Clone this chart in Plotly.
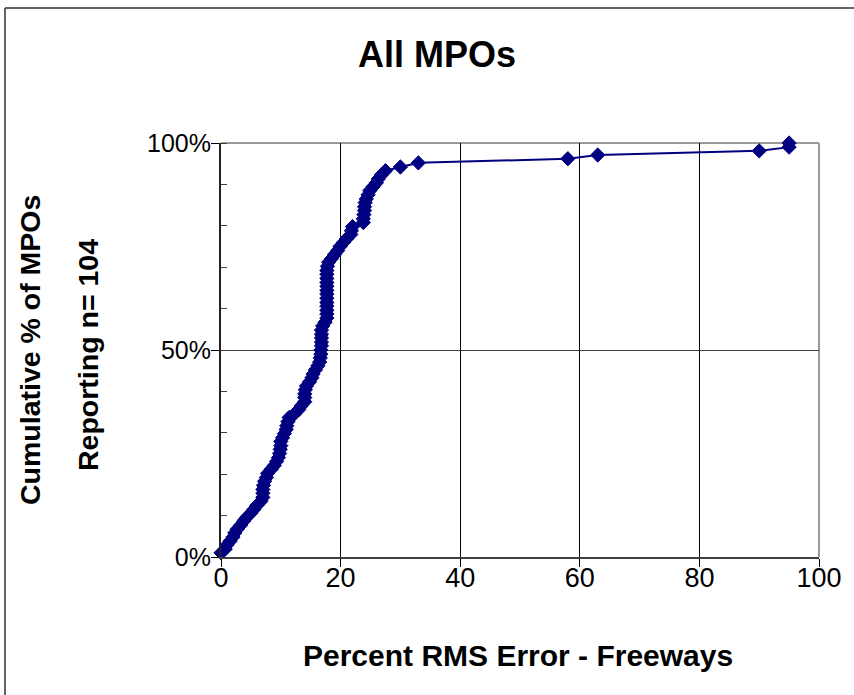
import plotly.graph_objects as go

# Percent RMS error (x) for each MPO, sorted, and cumulative % of MPOs reporting (y)
rms_error = [
    0.0, 0.7, 1.0, 1.5, 2.0, 2.3, 2.7, 3.3, 3.8, 4.3,
    5.0, 5.5, 6.0, 6.7, 7.0, 7.0, 7.0, 7.1, 7.3, 7.6,
    7.8, 8.4, 8.9, 9.3, 9.6, 9.8, 9.9, 10.0, 10.0, 10.3,
    10.6, 10.9, 11.0, 11.2, 11.4, 12.3, 13.0, 13.4, 14.0, 14.0,
    14.0, 14.1, 14.3, 14.8, 15.2, 15.4, 15.8, 16.2, 16.5, 16.6,
    16.7, 16.7, 16.8, 16.8, 16.8, 16.8, 16.8, 17.0, 17.4, 17.7,
    17.7, 17.7, 17.7, 17.7, 17.7, 17.7, 17.7, 17.7, 17.7, 17.7,
    17.7, 17.7, 17.8, 18.0, 18.5, 19.0, 19.5, 19.9, 20.5, 21.0,
    21.7, 21.8, 22.0, 23.8, 23.8, 23.9, 24.0, 24.0, 24.1, 24.3,
    24.6, 24.9, 25.4, 26.0, 26.3, 26.8, 27.5, 30.0, 33.0, 58.0,
    63.0, 90.0, 95.0, 95.0,
]
cum_pct = [
    1.0, 1.9, 2.9, 3.8, 4.8, 5.8, 6.7, 7.7, 8.7, 9.6,
    10.6, 11.5, 12.5, 13.5, 14.4, 15.4, 16.3, 17.3, 18.3, 19.2,
    20.2, 21.2, 22.1, 23.1, 24.0, 25.0, 26.0, 26.9, 27.9, 28.8,
    29.8, 30.8, 31.7, 32.7, 33.7, 34.6, 35.6, 36.5, 37.5, 38.5,
    39.4, 40.4, 41.3, 42.3, 43.3, 44.2, 45.2, 46.2, 47.1, 48.1,
    49.0, 50.0, 51.0, 51.9, 52.9, 53.8, 54.8, 55.8, 56.7, 57.7,
    58.7, 59.6, 60.6, 61.5, 62.5, 63.5, 64.4, 65.4, 66.3, 67.3,
    68.3, 69.2, 70.2, 71.2, 72.1, 73.1, 74.0, 75.0, 76.0, 76.9,
    77.9, 78.8, 79.8, 80.8, 81.7, 82.7, 83.7, 84.6, 85.6, 86.5,
    87.5, 88.5, 89.4, 90.4, 91.3, 92.3, 93.3, 94.2, 95.2, 96.2,
    97.1, 98.1, 99.0, 100.0,
]
x_ticks = [0, 20, 40, 60, 80, 100]
y_ticks = [0, 50, 100]
y_tick_labels = ["0%", "50%", "100%"]

title_text = "All MPOs"
x_title = "Percent RMS Error - Freeways"
y_title_lines = ["Cumulative % of MPOs", "Reporting n= 104"]

NAVY = "#000080"
FONT = "Arial, Liberation Sans, sans-serif"

fig = go.Figure()
fig.add_trace(go.Scatter(
    x=rms_error, y=cum_pct, mode="lines+markers",
    line=dict(color=NAVY, width=2),
    marker=dict(symbol="diamond", size=11, color=NAVY,
                line=dict(color=NAVY, width=1)),
    cliponaxis=False,
    showlegend=False, hoverinfo="x+y",
))

L, R, T, B = 221, 35, 143, 138
W, H = 854, 695
pw, ph = W - L - R, H - T - B

def px_x(px):
    return (px - L) / pw

def px_y(py):
    return (H - B - py) / ph

fig.update_layout(
    width=W, height=H,
    margin=dict(l=L, r=R, t=T, b=B, autoexpand=False),
    paper_bgcolor="white", plot_bgcolor="white",
    font=dict(family=FONT, color="black"),
    xaxis=dict(
        range=[0, 100], tickvals=x_ticks, ticks="outside", ticklen=8,
        tickcolor="black", tickwidth=1,
        showgrid=True, gridcolor="black", gridwidth=1,
        showline=True, linecolor="#404040", linewidth=2,
        zeroline=False, tickfont=dict(size=27, family=FONT),
        ticklabelstandoff=-12,
    ),
    yaxis=dict(
        range=[0, 100], tickvals=y_ticks, ticktext=y_tick_labels,
        ticks="outside", ticklen=8, tickcolor="black", tickwidth=1,
        showgrid=True, gridcolor="#404040", gridwidth=1,
        showline=True, linecolor="#202020", linewidth=2,
        zeroline=False, tickfont=dict(size=25, family=FONT),
        minor=dict(dtick=10, ticks="inside", ticklen=6, tickcolor="#404040",
                   showgrid=False),
        ticklabelstandoff=-5,
    ),
    shapes=[
        dict(type="line", xref="paper", yref="paper", x0=0, x1=1, y0=1, y1=1,
             line=dict(color="#999999", width=2), layer="below"),
        dict(type="line", xref="paper", yref="paper", x0=1, x1=1, y0=0, y1=1,
             line=dict(color="#999999", width=2), layer="below"),
        dict(type="line", xref="paper", yref="paper",
             x0=px_x(5), x1=px_x(5), y0=px_y(H + 20), y1=px_y(8),
             line=dict(color="#303030", width=1.5)),
        dict(type="line", xref="paper", yref="paper",
             x0=px_x(5), x1=px_x(W + 20), y0=px_y(8), y1=px_y(8),
             line=dict(color="#303030", width=1.5)),
    ],
    annotations=[
        dict(text=f"<b>{title_text}</b>", xref="paper", yref="paper",
             x=px_x(437), y=px_y(55), showarrow=False,
             font=dict(size=36, family=FONT), xanchor="center", yanchor="middle"),
        dict(text=f"<b>{x_title}</b>", xref="paper", yref="paper",
             x=px_x(518), y=px_y(655), showarrow=False,
             font=dict(size=30, family=FONT), xanchor="center", yanchor="middle"),
        dict(text=f"<b>{y_title_lines[0]}</b>", xref="paper", yref="paper",
             x=px_x(30), y=px_y(350), showarrow=False, textangle=-90,
             font=dict(size=28.5, family=FONT), xanchor="center", yanchor="middle"),
        dict(text=f"<b>{y_title_lines[1]}</b>", xref="paper", yref="paper",
             x=px_x(88), y=px_y(355), showarrow=False, textangle=-90,
             font=dict(size=28.5, family=FONT), xanchor="center", yanchor="middle"),
    ],
)

fig.write_html("out.html", config={"displayModeBar": False},
               post_script="document.body.style.margin='0';")
